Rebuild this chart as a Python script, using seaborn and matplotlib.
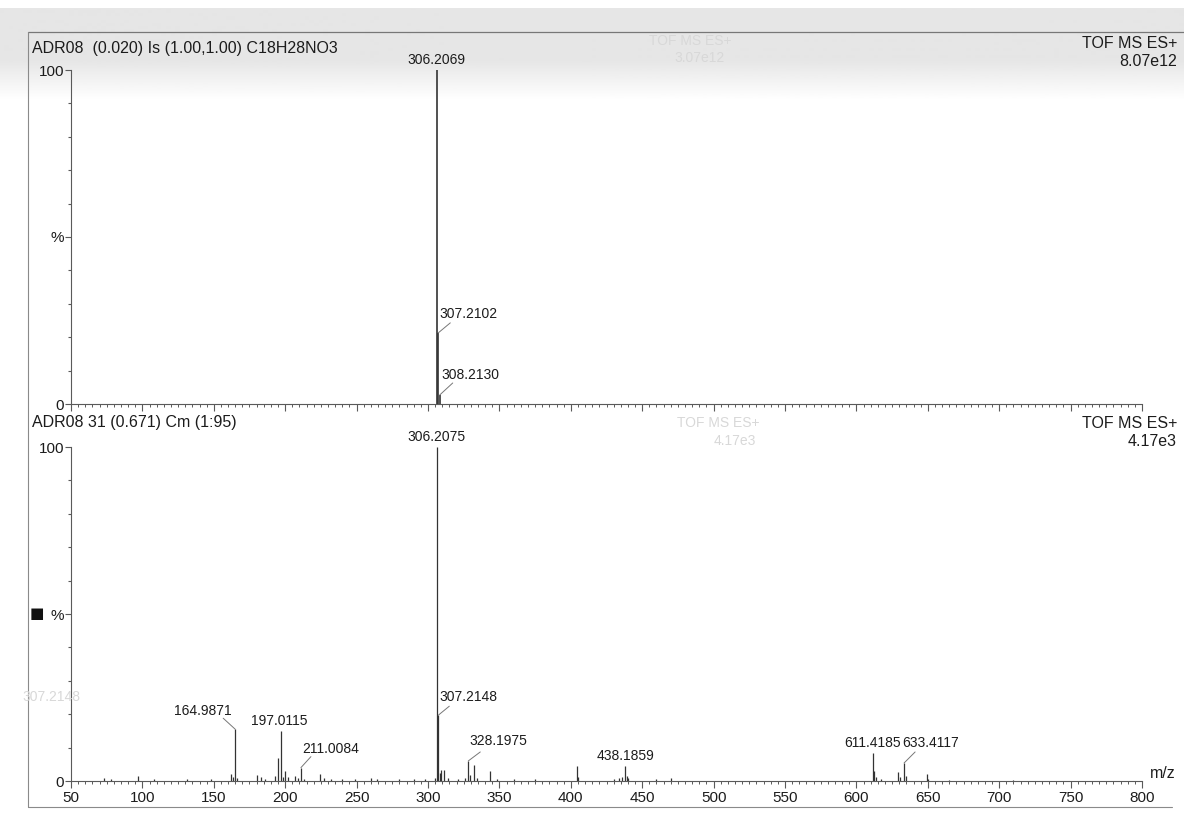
import numpy as np
import pandas as pd
import seaborn as sns
import matplotlib.pyplot as plt
from matplotlib.ticker import MultipleLocator
from matplotlib.lines import Line2D

# ---- data ----
# upper trace: simulated isotope pattern
top_mz = [306.2069, 307.2102, 308.2130]
top_pct = [100.0, 21.3, 2.7]

# lower trace: labelled peaks
bot_mz = [164.9871, 197.0115, 211.0084, 306.2075, 307.2148, 328.1975, 438.1859, 611.4185, 633.4117]
bot_pct = [15.5, 15.0, 4.0, 100.0, 19.7, 6.0, 4.5, 8.4, 5.4]

# lower trace: small unlabelled peaks
minor_mz = [73, 78, 97, 108, 131, 148, 162.0, 163.2, 166.5, 180.2, 183.1, 186, 193.1, 195.1,
            198.6, 199.6, 202.1, 207.1, 209.1, 213.2, 224.1, 227.1, 232, 240, 249, 260.1, 264,
            280, 290, 298, 305.2, 308.2, 309.2, 311.1, 314, 321, 326.1, 329.2, 332.2, 334.2,
            343.2, 348, 360, 375, 404.2, 405.2, 430, 434.1, 436.1, 439.2, 440.2, 460, 470.1,
            612.4, 613.4, 617, 629.4, 630.4, 634.4, 649.4, 650.4, 665, 710]
minor_pct = [0.8, 0.6, 1.5, 0.5, 0.7, 0.5, 2.0, 1.2, 0.8, 1.8, 1.2, 0.6, 1.5, 7.0,
             1.2, 3.0, 1.2, 1.5, 1.0, 0.6, 2.2, 1.0, 0.7, 0.6, 0.5, 1.0, 0.7,
             0.6, 0.5, 0.5, 1.0, 2.5, 3.2, 3.4, 0.8, 0.7, 0.9, 1.8, 4.8, 1.0,
             3.0, 0.6, 0.5, 0.6, 4.5, 1.2, 0.6, 1.0, 1.2, 1.5, 1.0, 0.5, 0.8,
             3.0, 1.2, 0.6, 2.8, 1.2, 1.5, 2.0, 0.6, 0.4, 0.4]

x_ticks = list(range(50, 801, 50))

top = pd.DataFrame({"mz": top_mz, "pct": top_pct})
bot = pd.concat([pd.DataFrame({"mz": bot_mz, "pct": bot_pct}),
                 pd.DataFrame({"mz": minor_mz, "pct": minor_pct})], ignore_index=True)

sns.set_theme(style="ticks")
plt.rcParams["font.family"] = ["Liberation Sans", "DejaVu Sans"]

TXT = "#1c1c1c"
AXC = "#5a5a5a"
PK = "#333333"

fig = plt.figure(figsize=(11.84, 8.13), dpi=100)

# faint scanner band along the top edge
bg = fig.add_axes([0, 0, 1, 1], zorder=-10)
rows = np.arange(813)
shade = np.ones(813)
shade[(rows > 8) & (rows < 60)] = 0.9
fade = (rows >= 60) & (rows < 100)
shade[fade] = 0.9 + 0.1 * (rows[fade] - 60) / 40
bg.imshow(shade[:, None], cmap="gray", vmin=0, vmax=1, aspect="auto", extent=[0, 1, 0, 1])
bg.set_axis_off()

L, R = 71 / 1184, 1142 / 1184
ax1 = fig.add_axes([L, 1 - 404 / 813, R - L, (404 - 70) / 813])
ax2 = fig.add_axes([L, 1 - 781 / 813, R - L, (781 - 447) / 813])

for ax in (ax1, ax2):
    ax.patch.set_alpha(0)
    ax.set_xlim(50, 800)
    ax.set_ylim(0, 100)
    sns.despine(ax=ax)
    for s in ("left", "bottom"):
        ax.spines[s].set_color(AXC)
        ax.spines[s].set_linewidth(0.8)
    ax.set_yticks([0, 50, 100])
    ax.set_yticklabels(["0", "%", "100"])
    ax.yaxis.set_minor_locator(MultipleLocator(10))
    ax.set_xticks(x_ticks)
    ax.xaxis.set_minor_locator(MultipleLocator(5))
    ax.tick_params(axis="y", which="major", length=4, width=0.8, color=AXC, pad=1,
                   labelsize=11, labelcolor=TXT)
    ax.tick_params(axis="y", which="minor", length=2.2, width=0.8, color=AXC)
    ax.tick_params(axis="x", which="major", length=5, width=0.8, color=AXC, pad=2.5,
                   labelsize=11, labelcolor=TXT)
    ax.tick_params(axis="x", which="minor", length=2.5, width=0.7, color=AXC)

ax1.tick_params(axis="x", labelbottom=False)

ax1.vlines(top["mz"], 0, top["pct"], color=PK, lw=1.2)
ax2.vlines(bot["mz"], 0, bot["pct"], color=PK, lw=0.9)

lab = dict(fontsize=10, color=TXT)
lead = dict(arrowstyle="-", color="#777777", lw=0.7, shrinkA=0, shrinkB=0)


def tag(ax, mz, pct, dx, dy, ha="center", va="bottom", lx=None, ly=None):
    ax.annotate(f"{mz:.4f}", (mz, pct), xytext=(dx, dy), textcoords="offset pixels",
                ha=ha, va=va, annotation_clip=False, **lab)
    if lx is not None:
        ax.annotate("", (mz, pct), xytext=(lx, ly), textcoords="offset pixels",
                    arrowprops=lead, annotation_clip=False)


# upper panel labels
tag(ax1, top_mz[0], top_pct[0], 0, 3)
tag(ax1, top_mz[1], top_pct[1], 1, 19, ha="left", va="center", lx=12, ly=10)
tag(ax1, top_mz[2], top_pct[2], 2, 20, ha="left", va="center", lx=13, ly=12)

# lower panel labels
tag(ax2, bot_mz[0], bot_pct[0], -32, 18, va="center", lx=-12, ly=11)
tag(ax2, bot_mz[1], bot_pct[1], -2, 3)
tag(ax2, bot_mz[2], bot_pct[2], 30, 19, va="center", lx=10, ly=11)
tag(ax2, bot_mz[3], bot_pct[3], 0, 3)
tag(ax2, bot_mz[4], bot_pct[4], 1, 18, ha="left", va="center", lx=11, ly=9)
tag(ax2, bot_mz[5], bot_pct[5], 30, 20, va="center", lx=12, ly=9)
tag(ax2, bot_mz[6], bot_pct[6], 0, 3)
tag(ax2, bot_mz[7], bot_pct[7], 0, 3)
tag(ax2, bot_mz[8], bot_pct[8], -2, 13, ha="left", va="bottom", lx=11, ly=11)

ax2.text(1150 / 1184, 1 - 773 / 813, "m/z", transform=fig.transFigure, fontsize=11.5,
         color=TXT, ha="left", va="center")

# header texts
hdr = dict(fontsize=11.5, color=TXT, transform=fig.transFigure)
fig.text(32 / 1184, 1 - 49 / 813, "ADR08  (0.020) Is (1.00,1.00) C18H28NO3", ha="left", va="center", **hdr)
fig.text(1177 / 1184, 1 - 43 / 813, "TOF MS ES+", ha="right", va="center", **hdr)
fig.text(1177 / 1184, 1 - 61 / 813, "8.07e12", ha="right", va="center", **hdr)
fig.text(32 / 1184, 1 - 423 / 813, "ADR08 31 (0.671) Cm (1:95)", ha="left", va="center", **hdr)
fig.text(1177 / 1184, 1 - 423 / 813, "TOF MS ES+", ha="right", va="center", **hdr)
fig.text(1177 / 1184, 1 - 441 / 813, "4.17e3", ha="right", va="center", **hdr)
fig.text(37 / 1184, 1 - 613 / 813, "\u25a0", ha="center", va="center", fontsize=11,
         color="#111111", family=["DejaVu Sans"])

# bleed-through from the other side of the sheet
ghost = dict(fontsize=10, color="#d8d8d8", transform=fig.transFigure, ha="center", va="center")
fig.text(690 / 1184, 1 - 41 / 813, "TOF MS ES+", **ghost)
fig.text(700 / 1184, 1 - 58 / 813, "3.07e12", **ghost)
fig.text(718 / 1184, 1 - 423 / 813, "TOF MS ES+", **ghost)
fig.text(735 / 1184, 1 - 441 / 813, "4.17e3", **ghost)
fig.text(51 / 1184, 1 - 697 / 813, "307.2148", **ghost)

# page frame
fc = "#8a8a8a"
fig.add_artist(Line2D([28 / 1184, 1], [1 - 32 / 813] * 2, color="#777777", lw=0.9))
fig.add_artist(Line2D([28 / 1184] * 2, [1 - 32 / 813, 1 - 807 / 813], color=fc, lw=0.8))
fig.add_artist(Line2D([28 / 1184, 1172 / 1184], [1 - 807 / 813] * 2, color=fc, lw=0.8))

fig.savefig("out.png", dpi=100)
